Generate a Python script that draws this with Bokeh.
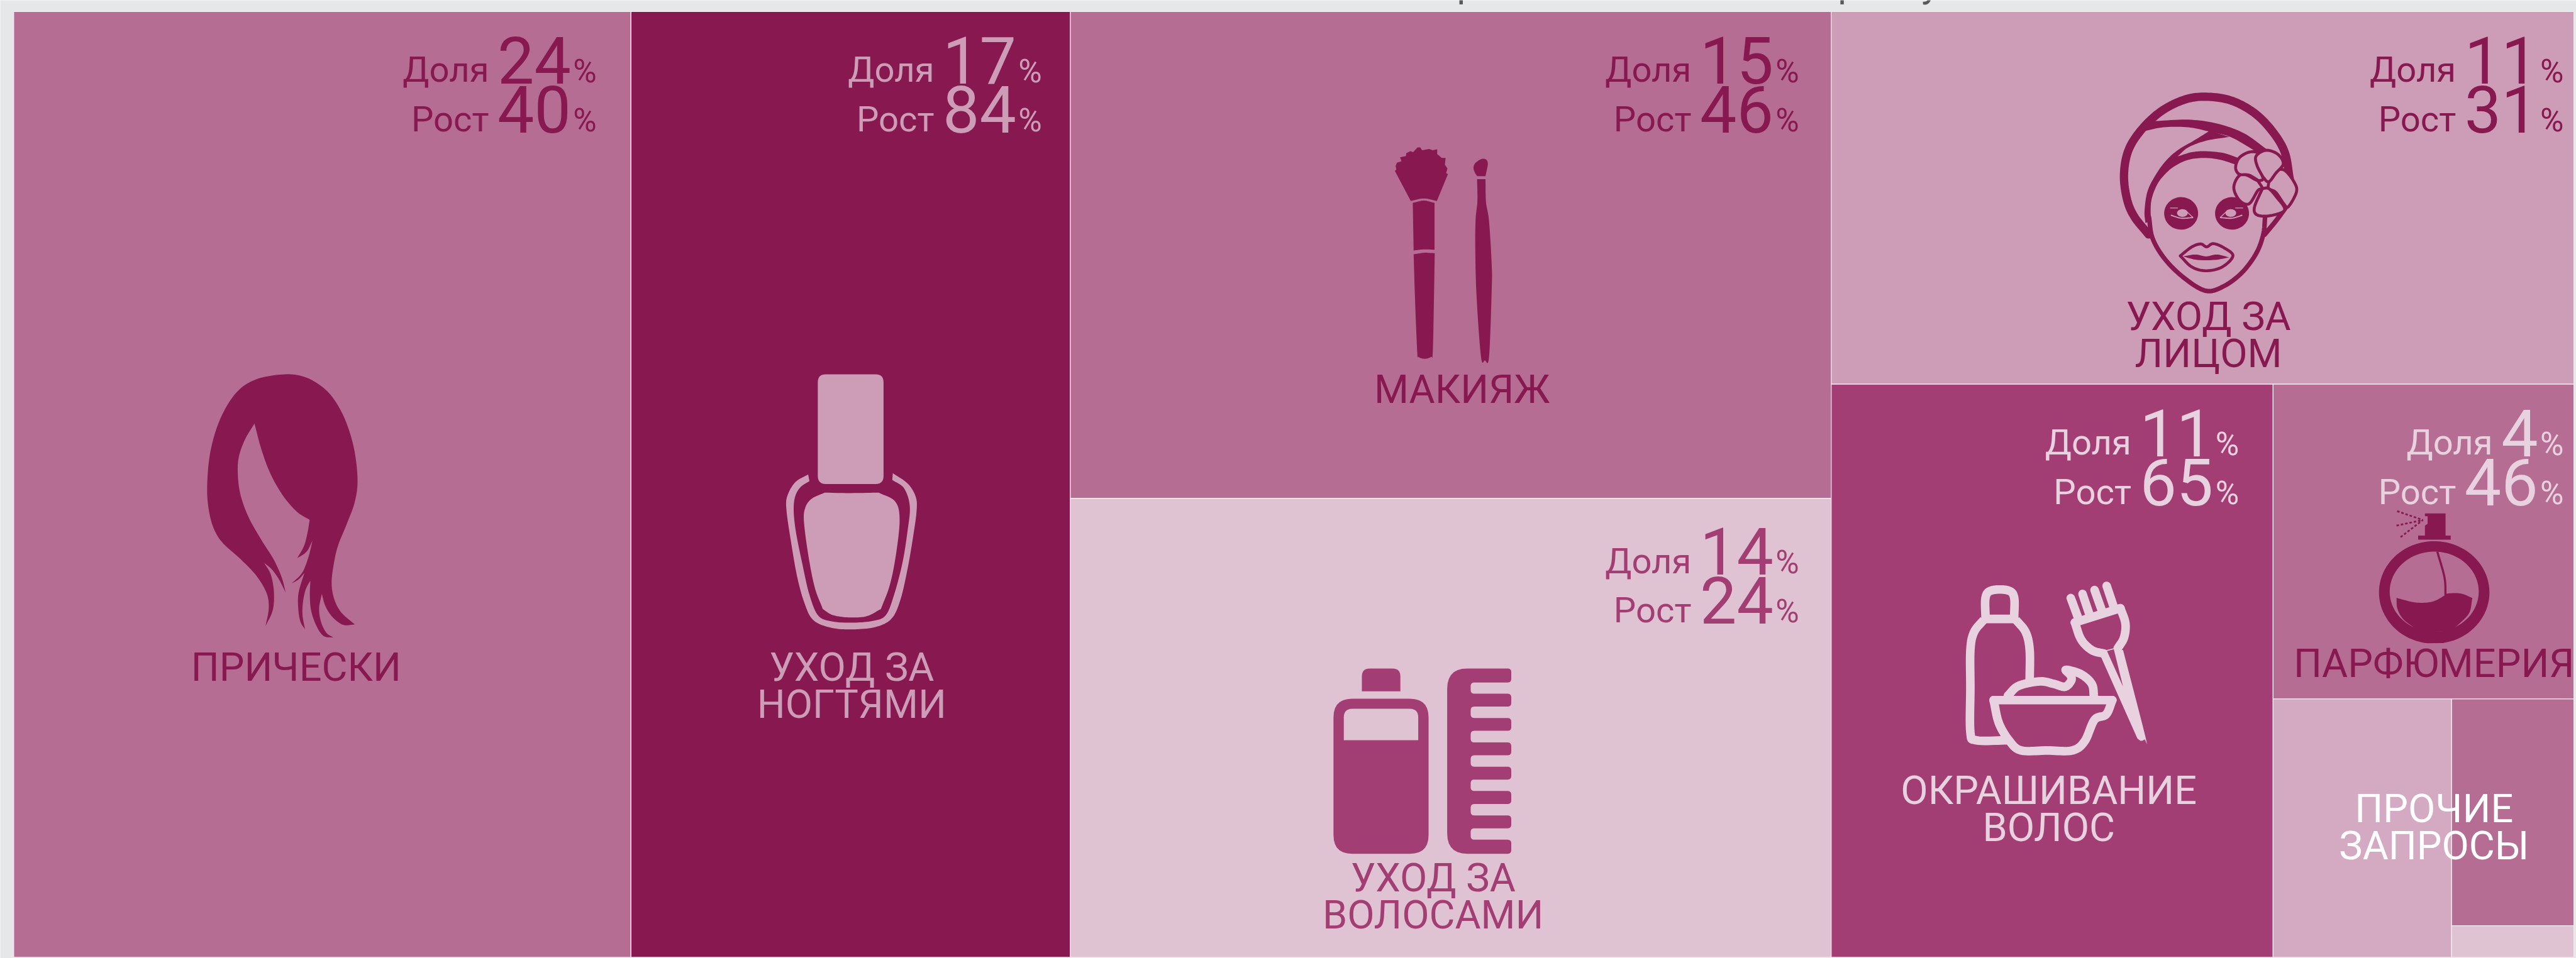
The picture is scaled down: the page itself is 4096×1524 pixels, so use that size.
from bokeh.plotting import figure
from bokeh.models import Range1d
from bokeh.embed import file_html
from bokeh.resources import INLINE
from bokeh.core.properties import value
import numpy as np

# ---------- data ----------
categories = ["ПРИЧЕСКИ", "УХОД ЗА\nНОГТЯМИ", "МАКИЯЖ", "УХОД ЗА\nВОЛОСАМИ", "УХОД ЗА\nЛИЦОМ",
              "ОКРАШИВАНИЕ\nВОЛОС", "ПАРФЮМЕРИЯ"]
share_labels = [24, 17, 15, 14, 11, 11, 4]
growth_labels = [40, 84, 46, 24, 31, 65, 46]
# treemap areas (share of the whole, %), including the small unnamed cells of "ПРОЧИЕ ЗАПРОСЫ"
tile_names = ["ПРИЧЕСКИ", "НОГТИ", "МАКИЯЖ", "ВОЛОСЫ", "ЛИЦО", "ОКРАШИВАНИЕ", "ПАРФЮМЕРИЯ", "ПРОЧИЕ", "ПРОЧИЕ-2", "ПРОЧИЕ-3"]
tile_areas = [24.11, 17.16, 15.30, 14.42, 11.43, 10.46, 3.91, 1.905, 1.145, 0.16]
tile_colors = ["#B56D94", "#881850", "#B56D94", "#E0C3D2", "#CD9DB8", "#A33E74", "#B56D94", "#D4A9C2", "#B56D94", "#E0C3D2"]
other_label = "ПРОЧИЕ\nЗАПРОСЫ"
word_share = "Доля"
word_growth = "Рост"
title_fragments = ["р", "р", "у"]

# ---------- canvas: data units are pixels of the 4803x1787 reference ----------
S = 0.852
FONT = value("Roboto")
BG = "#E6E7E8"
p = figure(width=4096, height=1524, output_backend="svg", toolbar_location=None,
           x_range=Range1d(0, 4096 / S), y_range=Range1d(1524 / S, 0),
           background_fill_color=BG, border_fill_color=BG, min_border=0, outline_line_color=None)
p.axis.visible = False
p.grid.visible = False

# ---------- treemap layout from the areas ----------
X0, X1, Y0, Y1 = 25.0, 4803.0, 21.0, 1787.0
total = sum(tile_areas)

def sub(idx):
    return sum(tile_areas[i] for i in idx)

def split(rect, groups, horizontal):
    x0, y0, x1, y1 = rect
    t = sum(sub(flat(g)) for g in groups)
    out, pos = [], (x0 if horizontal else y0)
    for g in groups:
        f = sub(flat(g)) / t
        if horizontal:
            w = (x1 - x0) * f
            out.append((pos, y0, pos + w, y1))
        else:
            w = (y1 - y0) * f
            out.append((x0, pos, x1, pos + w))
        pos += w
    return out

def flat(g):
    if isinstance(g, int):
        return [g]
    r = []
    for k in g:
        r += flat(k)
    return r

rects = {}
col = split((X0, Y0, X1, Y1), [0, 1, [2, 3], [4, 5, 6, 7, 8, 9]], True)
rects[0], rects[1] = col[0], col[1]
rects[2], rects[3] = split(col[2], [2, 3], False)
rects[4], low = split(col[3], [4, [5, 6, 7, 8, 9]], False)
rects[5], r2 = split(low, [5, [6, 7, 8, 9]], True)
rects[6], r3 = split(r2, [6, [7, 8, 9]], False)
rects[7], r4 = split(r3, [7, [8, 9]], True)
rects[8], rects[9] = split(r4, [8, 9], False)
order = list(range(len(tile_areas)))
p.quad(left=[rects[i][0] for i in order], right=[rects[i][2] for i in order],
       top=[rects[i][1] for i in order], bottom=[rects[i][3] for i in order],
       fill_color=tile_colors, line_color="#F3E9EE", line_width=1.3)

# ---------- geometry helpers for the pictograms ----------
def cr(pts, n=10):
    """Catmull-Rom through the points (open)."""
    P = [np.array(a, float) for a in pts]
    if len(P) == 2:
        return [tuple(P[0]), tuple(P[1])]
    P = [2 * P[0] - P[1]] + P + [2 * P[-1] - P[-2]]
    out = []
    for i in range(1, len(P) - 2):
        a, b, c, d = P[i - 1], P[i], P[i + 1], P[i + 2]
        for t in np.linspace(0, 1, n, endpoint=False):
            out.append(tuple(0.5 * (2 * b + (c - a) * t + (2 * a - 5 * b + 4 * c - d) * t ** 2 + (3 * b - a - 3 * c + d) * t ** 3)))
    out.append(tuple(P[-2]))
    return out

def segs(*parts):
    r = []
    for s in parts:
        r += cr(s)
    return r

def tf(pts, ox, oy, sx, sy):
    return [ox + a / sx for a, _ in pts], [oy + b / sy for _, b in pts]

def rounded(pts, r):
    """Polygon with its corners rounded (r in the polygon's own units, or a list)."""
    out = []
    n = len(pts)
    rs = r if isinstance(r, (list, tuple)) else [r] * n
    for i in range(n):
        a, b, c = np.array(pts[i - 1], float), np.array(pts[i], float), np.array(pts[(i + 1) % n], float)
        if rs[i] == 0:
            out.append(tuple(b))
            continue
        u = (a - b) / np.linalg.norm(a - b)
        v = (c - b) / np.linalg.norm(c - b)
        p0, p2 = b + u * rs[i], b + v * rs[i]
        for t in np.linspace(0, 1, 8):
            out.append(tuple((1 - t) ** 2 * p0 + 2 * t * (1 - t) * b + t ** 2 * p2))
    return out

def fill(pts, T, color):
    x, y = tf(pts, *T)
    p.patch(x, y, fill_color=color, line_color=None)

def stroke(pts, T, color, w, smooth=True, cap="round"):
    x, y = tf(cr(pts) if smooth else pts, *T)
    p.line(x, y, line_color=color, line_width=w * S, line_cap=cap, line_join="round")

def ell(cx, cy, rx, ry, n=60):
    return [(cx + rx * np.cos(t), cy + ry * np.sin(t)) for t in np.linspace(0, 2 * np.pi, n)]

D = "#881850"
# --- hair
T = (300, 650, 3, 2.412)
fill(segs(
    [(585,1250),(603,1170),(590,1100),(530,1020),(440,945),(350,880),(300,820),(270,740),(258,630),(275,470),(330,320),(420,200),(530,140),(680,117),(790,125),(880,160),(960,220),(1030,320),(1080,450),(1100,590),(1085,690),(1040,790),(990,890),(965,980),(955,1060),(970,1130),(1010,1190),(1085,1243)],
    [(1085,1243),(1020,1245),(960,1210),(920,1160),(900,1105)],
    [(900,1105),(885,1170),(895,1230),(925,1280),(965,1302)],
    [(965,1302),(910,1295),(870,1250),(840,1180),(833,1110),(836,1045)],
    [(836,1045),(810,1085),(795,1140),(792,1200),(806,1265)],
    [(806,1265),(780,1230),(768,1170),(770,1100),(802,1012)],
    [(802,1012),(770,1040),(732,1058)],
    [(732,1058),(790,1010),(825,940),(848,865)],
    [(848,865),(815,915),(762,945)],
    [(762,945),(800,890),(820,830),(832,772)],
    [(832,772),(760,735),(680,660),(610,560),(560,450),(523,338)],
    [(523,338),(470,410),(435,490),(430,570),(445,660),(490,760),(560,860),(630,950),(675,1030),(698,1100)],
    [(698,1100),(660,1040),(620,995),(577,965)],
    [(577,965),(615,1020),(632,1100),(625,1180),(585,1250)]), T, D)

# --- nail polish
T = (1350, 650, 3, 2.24)
N = "#CD9DB8"
x, y = tf([(527,108),(895,108),(895,567),(527,567)], *T)
p.patch(*zip(*rounded(list(zip(x, y)), 15)), fill_color=N, line_color=None)
fill(segs([(565,603),(700,605),(868,603)], [(868,603),(960,640),(985,715),(965,860),(930,990),(880,1090)],
          [(880,1090),(800,1120),(700,1125),(610,1115),(555,1090)], [(555,1090),(510,1000),(475,870),(450,730),(455,670),(490,630),(565,603)]), T, N)
fill(segs([(473,527),(400,560),(355,620),(352,680),(375,800),(410,950),(450,1060),(500,1135),(600,1168),(720,1175),(850,1165),(940,1130),(990,1050),(1030,920),(1060,790),(1080,680),(1075,620),(1030,565),(947,522)],
          [(947,522),(944,550)],
          [(944,550),(1010,585),(1042,660),(1030,760),(1000,900),(950,1040),(905,1118),(830,1140),(720,1147),(610,1142),(530,1118),(480,1030),(440,900),(405,770),(392,680),(400,620),(430,580),(480,555)],
          [(480,555),(473,527)]), T, N)

# --- make-up brushes
T = (2450, 230, 3, 2.8)
fill([(547,405),(458,248),(466,240),(462,222),(470,205),(495,197),(487,177),(520,170),(522,155),(545,145),(560,150),(585,125),(600,125),(610,140),(650,133),(670,140),(695,135),(695,160),(720,180),(742,180),(738,215),(752,235),(745,260),(755,265),(693,405)] + cr([(693,405),(620,392),(547,405)]), T, D)
fill(cr([(558,415),(620,403),(680,415)]) + cr([(680,660),(620,658),(563,664)]), T, D)
fill(cr([(563,684),(620,676),(681,678)]) + segs([(681,678),(677,900),(670,1195),(660,1220),(625,1230),(590,1220),(583,1195),(570,900),(563,684)]), T, D)
fill(segs([(918,275),(965,275)], [(965,275),(978,215),(970,190),(945,185),(910,205),(898,230),(905,255),(918,275)]), T, D)
fill(segs([(918,291),(965,291)], [(965,291),(968,410),(985,510),(1000,740),(1000,870),(985,1220),(962,1238),(940,1220),(915,900),(908,650),(910,500),(920,405),(918,291)]), T, D)

# --- hair-care bottle and comb
T = (2400, 1200, 2.851, 2.671)
H = "#A33E74"
H_BG = "#E0C3D2"
def rpoly(pts, T, r, color):
    x, y = tf(pts, *T)
    p.patch(*zip(*rounded(list(zip(x, y)), r)), fill_color=color, line_color=None)
rpoly([(402,241),(402,127),(607,127),(607,241)], T, [0,15,15,0], H)
rpoly([(251,278),(757,278),(757,1051),(251,1051)], T, 35, H)
rpoly([(306,485),(306,328),(702,328),(702,485)], T, [0,16,16,0], H_BG)
teeth = [(127,197),(253,317),(374,438),(496,560),(617,681),(738,803),(860,924),(981,1051)]
cpts, crs = [(856,1051),(856,127)], [38,38]
for i, (a, b) in enumerate(teeth):
    cpts += [(1197,a),(1197,b)]
    crs += [7,7]
    if i < len(teeth) - 1:
        cpts += [(981,b),(981,teeth[i+1][0])]
        crs += [7,7]
rpoly(cpts, T, crs, H)

# --- face care
T = (3850, 130, 3, 2.8)
stroke([(478,860),(400,770),(358,680),(340,550),(365,420),(440,310),(550,215),(680,155),(800,140),(940,160),(1070,225),(1170,320),(1240,430),(1268,570)], T, D, 15.5)
fill(segs([(445,322),(560,300),(700,300),(830,325),(935,350),(1050,410),(1125,460)],
          [(1125,460),(1140,415)], [(1140,415),(1010,330),(860,280),(700,260),(500,268)],
          [(500,268),(445,322)]), T, D)
fill(segs([(640,452),(720,430),(800,425),(900,435),(985,462)], [(985,462),(965,495)],
          [(965,495),(880,470),(790,460),(700,470),(620,505),(560,555),(520,610),(492,690),(490,790)], [(490,790),(460,800)],
          [(460,800),(455,740),(470,640),(510,560),(570,480),(640,420),(730,370),(820,318)],
          [(820,318),(930,350)], [(930,350),(800,370),(700,405),(640,452)]), T, D)
stroke([(480,770),(500,880),(570,990),(680,1090),(800,1155),(900,1130),(1000,1060),(1080,960),(1120,860),(1130,770)], T, D, 8.5)
stroke([(1128,860),(1190,790),(1245,720)], T, D, 9)
for cx in (660, 945):
    x, y = tf(ell(cx, 750, 95, 85), *T)
    p.patch(x, y, fill_color=D, line_color=None)
    sgn = 1 if cx == 660 else -1
    x, y = tf(ell(cx + 7 * sgn, 748, 30, 20), *T)
    p.patch(x, y, fill_color=N, line_color=None)
    stroke([(cx - 55 * sgn, 760), (cx, 775), (cx + 65 * sgn, 772)], T, N, 2.2)
    stroke([(cx - 60 * sgn, 722), (cx - 20 * sgn, 722)], T, N, 1.5)
    stroke([(cx + 25 * sgn, 735), (cx + 65 * sgn, 770)], T, N, 1.5)
stroke([(655,972),(720,925),(770,910),(803,925),(840,908),(900,930),(950,972),(890,1030),(800,1050),(720,1030),(655,972)], T, D, 5.5)
fill(segs([(670,975),(740,965),(800,975),(860,965),(930,980)], [(930,980),(850,993),(750,993),(670,975)]), T, D)
petals = [
    [(1150,590),(1190,530),(1240,525),(1295,590),(1305,640),(1260,715),(1235,700),(1190,640),(1150,620),(1150,590)],
    [(1115,620),(1070,720),(1090,760),(1170,760),(1240,730),(1190,660),(1150,620),(1115,620)],
    [(1090,580),(1000,545),(955,610),(985,680),(1040,700),(1090,630),(1115,620),(1090,580)],
    [(1095,580),(1040,550),(985,545),(965,510),(985,460),(1040,430),(1090,435),(1080,480),(1118,565),(1095,580)],
    [(1118,560),(1085,500),(1080,450),(1135,420),(1200,440),(1232,490),(1190,540),(1150,585),(1118,560)],
]
for pet in petals:
    x, y = tf(cr(pet), *T)
    p.patch(x, y, fill_color=N, line_color=D, line_width=5.5 * S, line_join="round")

# --- hair colouring
T = (3600, 1050, 3, 3)
C = "#E8D2DF"
W = 16
stroke([(315,315),(315,195),(350,155),(440,155),(475,195),(475,315)], T, C, W)
stroke([(305,315),(485,315)], T, C, W, cap="butt")
stroke([(485,320),(540,390),(562,490),(562,660)], T, C, W, cap="butt")
stroke([(305,320),(250,390),(230,490),(230,700),(230,950),(265,995),(440,995)], T, C, W, cap="butt")
stroke([(360,770),(1025,770)], T, C, W)
stroke([(360,770),(390,900),(450,1000),(515,1052),(660,1052),(800,1052),(870,1000),(925,880),(990,850),(1025,770)], T, C, W)
stroke([(440,745),(500,690),(620,665),(700,680),(760,695),(795,660),(790,630),(765,600),(850,625),(910,680),(922,750)], T, C, W)
for a, b in [((792,198),(830,300)), ((858,175),(895,285)), ((925,153),(965,265)), ((993,130),(1030,240))]:
    stroke([a, b], T, C, W)
stroke([(815,335),(1070,255)], T, C, W)
stroke([(815,335),(850,430),(910,490),(980,510)], T, C, W)
stroke([(1070,255),(1098,340),(1090,420),(1055,480)], T, C, W)
fill([(960,525),(990,490),(1030,480),(1085,490)] + cr([(1085,490),(1210,975),(1205,990),(1185,998),(1165,985)]), T, C)
fill([(995,495),(1085,695),(1033,485)], T, H)

# --- perfume
T = (4200, 700, 2.6, 1.4424)
fill([(845,372),(945,372),(945,432),(970,432),(970,443),(812,443),(812,432),(845,432),(845,405),(858,400),(858,380),(845,380)], T, D)
outer = [q for q in ell(890, 585, 268, 138, 90) if q[1] <= 722]
inner = [q for q in ell(890, 583, 216, 108, 90) if q[1] <= 690]
ox, oy = tf(sorted(outer, key=lambda q: np.arctan2(q[1] - 585, q[0] - 890)), *T)
ix, iy = tf(sorted(inner, key=lambda q: np.arctan2(q[1] - 583, q[0] - 890)), *T)
p.multi_polygons(xs=[[[list(ox), list(ix)]]], ys=[[[list(oy), list(iy)]]], fill_color=D, line_color=None)
fill(segs([(707,600),(800,612),(880,610),(935,595),(955,588),(1020,588),(1075,600)],
          [(1075,600),(1060,640),(1010,670),(965,690)], [(965,690),(820,690)], [(820,690),(745,660),(712,630),(707,600)]), T, D)
stroke([(905,475),(940,545),(945,595)], T, D, 4, cap="butt")
for a in [(710,366), (707,405), (727,436)]:
    x, y = tf([a, (835,390)], *T)
    p.line(x, y, line_color=D, line_width=3.2 * S, line_dash="4 3")

# ---------- texts ----------
BASE_K = 0.33   # bokeh's svg text sits this far (in em) below the requested baseline

def txt(x, y, s, size, color, align="center"):
    p.text([x], [y - BASE_K * size], text=[s], text_font=FONT, text_font_size=f"{size * S:.1f}px", text_color=color,
           text_align=align, text_baseline="alphabetic")

LS, NS, PS = 66, 122, 60     # word, number and % sizes (reference pixels)
DIGIT = 0.5615 * NS

def stat(xr, yb, word, val, color):
    txt(xr, yb, "%", PS, color, "right")
    xn = xr - 48
    txt(xn, yb, str(val), NS, color, "right")
    txt(xn - DIGIT * len(str(val)) - 16, yb, word, LS, color, "right")

stat_pos = [(1113, 152), (1944, 152), (3357, 152), (3357, 1069), (4784, 152), (4178, 848), (4784, 848)]
stat_col = [D, N, D, H, D, "#E8D2DF", "#E8D2DF"]
for (xr, yb), a, b, c in zip(stat_pos, share_labels, growth_labels, stat_col):
    stat(xr, yb, word_share, a, c)
    stat(xr, yb + 92, word_growth, b, c)

label_pos = [(552, 1270), (1589, 1270), (2728, 751), (2674, 1663), (4121, 615), (3823, 1500), (4542, 1263)]
label_col = [D, N, D, H, D, "#E8D2DF", D]
LB = 74
for name, (cx, yb), c in zip(categories, label_pos, label_col):
    for i, line in enumerate(name.split("\n")):
        txt(cx, yb + i * 69, line, LB, c)
for i, line in enumerate(other_label.split("\n")):
    txt(4542, 1534 + i * 69, line, LB, "#FFFFFF")

# ---------- clipped title above the chart ----------
for ch, xc in zip(title_fragments, (2738, 3449, 3602)):
    txt(xc, -7, ch, 70, "#58595B")

open("out.html", "w").write(file_html(p, INLINE))
